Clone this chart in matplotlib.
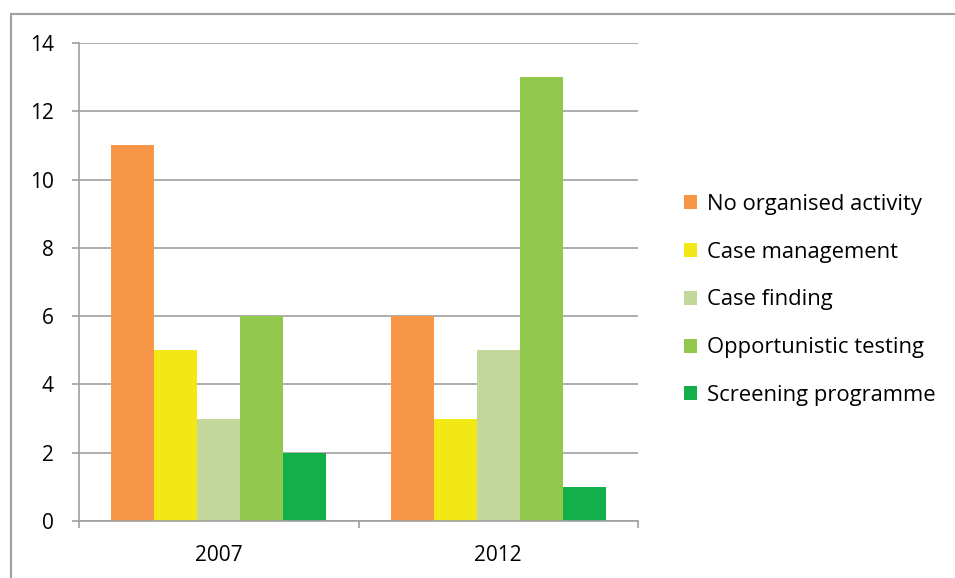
import numpy as np
import matplotlib.pyplot as plt
from matplotlib.patches import Rectangle, Patch

years = ["2007", "2012"]
categories = ["No organised activity", "Case management", "Case finding",
              "Opportunistic testing", "Screening programme"]
values_2007 = [11, 5, 3, 6, 2]
values_2012 = [6, 3, 5, 13, 1]
colors = ["#F79646", "#F2E816", "#C4D79B", "#92C84B", "#13AF4B"]

plt.rcParams["font.family"] = ["Open Sans", "DejaVu Sans"]

W, H = 955, 578
fig = plt.figure(figsize=(W / 100, H / 100), dpi=100)
ax = fig.add_axes([79 / W, (H - 521) / H, 559 / W, 478 / H])

grid_col = "#A0A0A0"
x = np.arange(len(years))
bw = 0.154
data = np.array([values_2007, values_2012])
for i, (cat, col) in enumerate(zip(categories, colors)):
    ax.bar(x + (i - 2) * bw, data[:, i], width=bw, color=col, label=cat, zorder=3)

ax.set_xlim(-0.5, 1.5)
ax.set_ylim(0, 14)
ax.set_yticks(range(0, 15, 2))
ax.set_xticks([-0.5, 0.5, 1.5])
ax.set_xticklabels([])
ax.set_xticks(x, minor=True)
ax.set_xticklabels(years, minor=True)
ax.tick_params(axis="x", which="minor", length=0, pad=17, labelsize=15)
ax.tick_params(axis="x", which="major", length=5, color=grid_col, width=1.2)
ax.tick_params(axis="y", length=5, color=grid_col, width=1.2, pad=13, labelsize=15)
ax.grid(axis="y", color=grid_col, linewidth=1.2, zorder=0)
for s in ["top", "right"]:
    ax.spines[s].set_visible(False)
for s in ["left", "bottom"]:
    ax.spines[s].set_color(grid_col)
    ax.spines[s].set_linewidth(1.2)
    ax.spines[s].set_zorder(4)

# outer chart border
fig.patches.append(Rectangle((11 / W, -0.1), 2, (H - 14) / H + 0.1,
                             transform=fig.transFigure, fill=False,
                             edgecolor=grid_col, linewidth=1.5))

handles = [Patch(facecolor=c, edgecolor="none") for c in colors]
fig.legend(handles, categories, loc="center left", bbox_to_anchor=(664 / W, (H - 300) / H),
           frameon=False, fontsize=15.8, handlelength=0.6, handleheight=0.6,
           handletextpad=0.45, labelspacing=1.22)

fig.savefig("out.png", dpi=100)
